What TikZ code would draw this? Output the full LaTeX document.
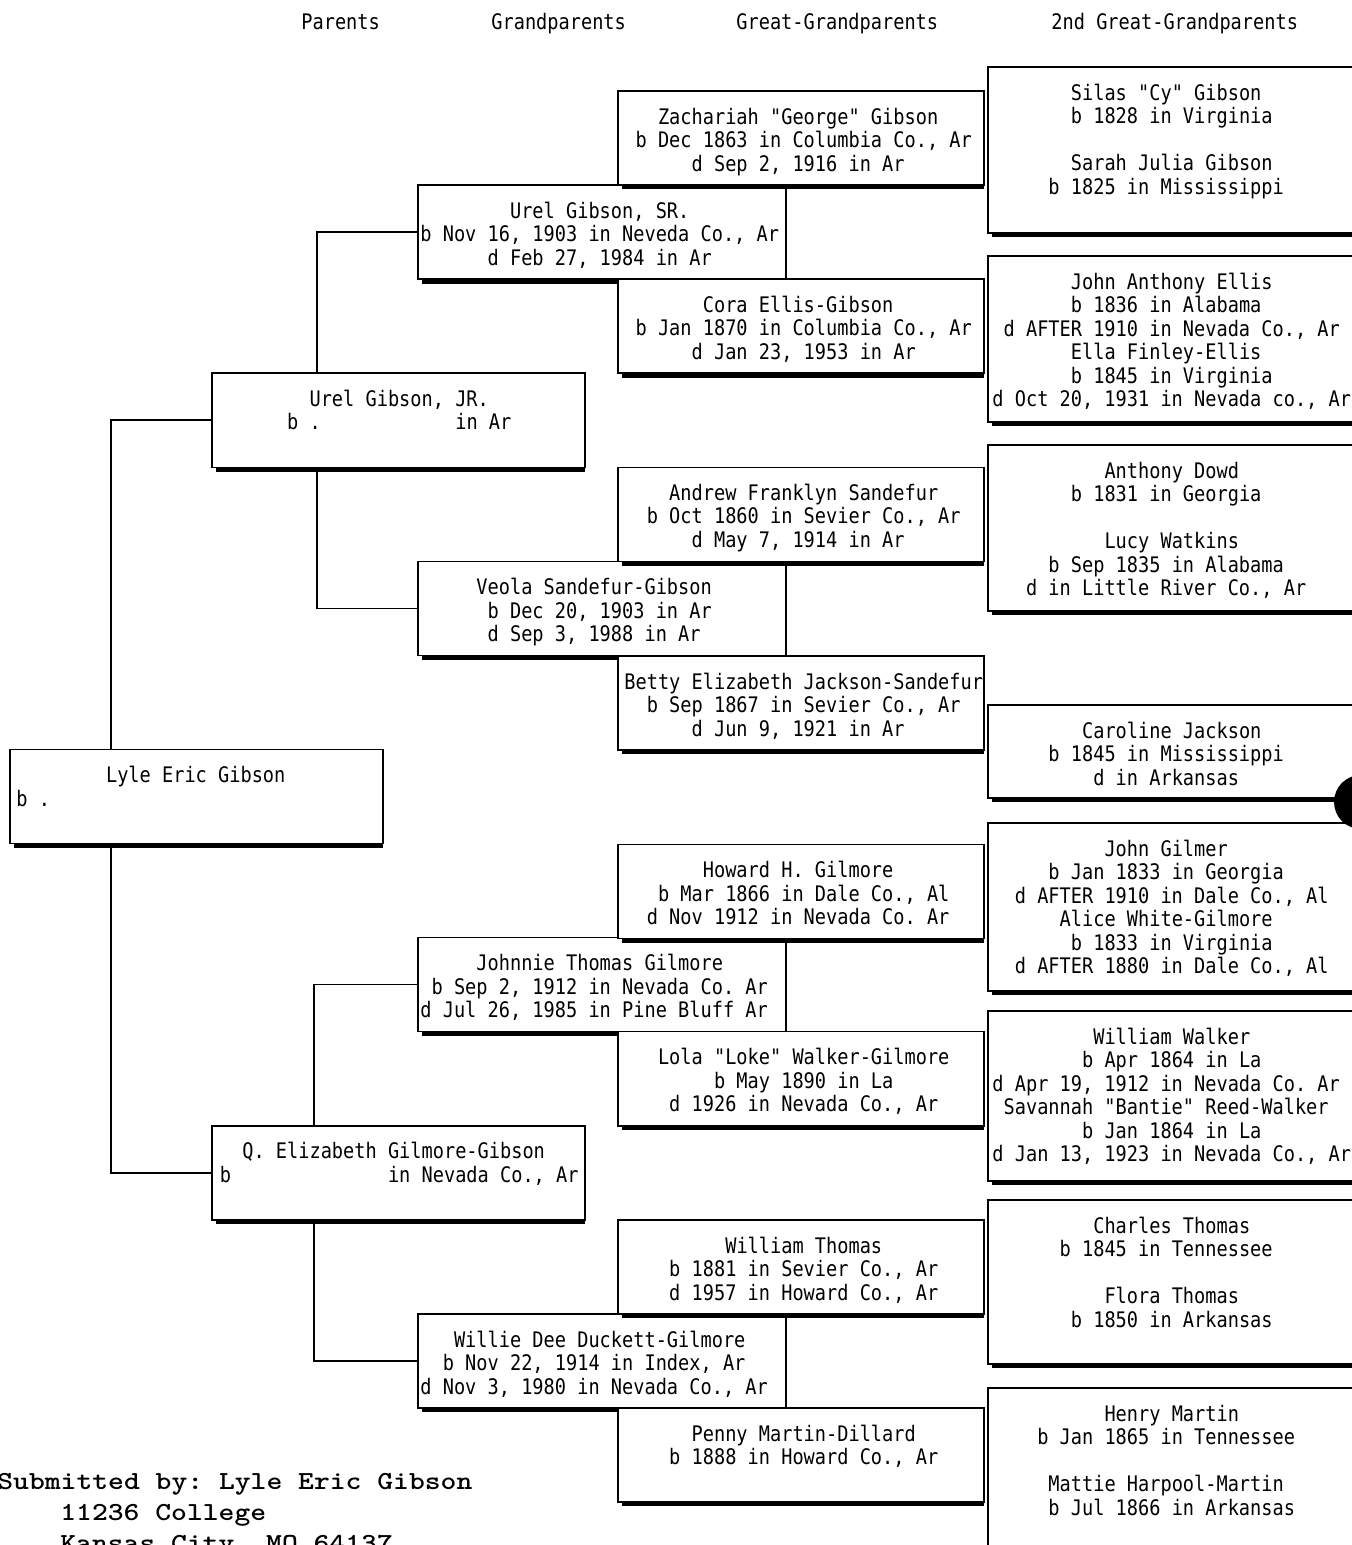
\documentclass[tikz,border=0pt]{standalone}
\usepackage{fontspec}
\setmonofont{DejaVu Sans Mono}[FakeStretch=0.87]
\newfontfamily\footfont{lmmonolt10-bold.otf}[FakeStretch=1.16]
\usetikzlibrary{calc}

\newlength\cw
\newlength\gtmp
\newsavebox\glbox
% one printed line, centred on a 32-column character grid (dot-matrix style)
\newcommand\gl[2][32]{%
  \settowidth{\cw}{0}%
  \sbox\glbox{#2}%
  \setlength\gtmp{\wd\glbox}%
  \pgfmathtruncatemacro\padn{floor((#1*\cw-\gtmp)/(2*\cw)+0.01)}%
  \hbox to #1\cw{\vrule height 8.5pt depth 3pt width 0pt\hskip\padn\cw\usebox\glbox\hss}}

\tikzset{
  pbox/.style={draw, fill=white, line width=0.75pt, inner sep=0pt, outer sep=0pt, rectangle},
  shadowline/.style={line width=2pt},
  conn/.style={line width=0.75pt},
  ptxt/.style={anchor=north west, inner sep=0pt,
    font=\ttfamily\fontsize{10.7pt}{11.75pt}\selectfont\frenchspacing},
  hdr/.style={anchor=base west, inner sep=0pt,
    font=\ttfamily\fontsize{10.7pt}{11.75pt}\selectfont\frenchspacing},
  foot/.style={anchor=base west, inner sep=0pt,
    font=\footfont\fontsize{13pt}{15pt}\selectfont\frenchspacing},
}

% name, left, top, width, height, text offset, lines
\newcommand\person[7]{%
  \node[pbox, minimum width=#4*0.5pt, minimum height=#5*0.5pt] (#1) at (#2+#4/2, #3+#5/2) {};
  \draw[shadowline] ([xshift=2pt, yshift=-1.2pt]#1.south west) -- ([yshift=-1.2pt]#1.south east);
  \node[ptxt] (#1-t) at (#2+#6, #3+15.8) {\vtop{#7}};
}

\begin{document}
\begin{tikzpicture}[x=0.5pt, y=-0.5pt]
\useasboundingbox (0,0) rectangle (1352,1545);
\clip (0,0) rectangle (1352,1545);
\fill[white] (0,0) rectangle (1352,1545);

% column headings
\node[hdr] (h1) at (301,29.8) {Parents};
\node[hdr] (h2) at (491,29.8) {Grandparents};
\node[hdr] (h3) at (736,29.8) {Great-Grandparents};
\node[hdr] (h4) at (1051,29.8) {2nd Great-Grandparents};

% grandparents
\person{urelsr}{418}{185.07}{368}{94.07}{2}{\gl{Urel Gibson, SR.}\gl{b Nov 16, 1903 in Neveda Co., Ar}\gl{d Feb 27, 1984 in Ar}}
\person{veola}{418}{561.35}{368}{94.07}{2}{\gl{Veola Sandefur-Gibson}\gl{b Dec 20, 1903 in Ar}\gl{d Sep 3, 1988 in Ar}}
\person{johnnie}{418}{937.63}{368}{94.07}{2}{\gl{Johnnie Thomas Gilmore}\gl{b Sep 2, 1912 in Nevada Co. Ar}\gl{d Jul 26, 1985 in Pine Bluff Ar}}
\person{willie}{418}{1313.91}{368}{94.07}{2}{\gl{Willie Dee Duckett-Gilmore}\gl{b Nov 22, 1914 in Index, Ar}\gl{d Nov 3, 1980 in Nevada Co., Ar}}

% great-grandparents
\person{zach}{618}{91}{366}{94.07}{6}{\gl{Zachariah "George" Gibson}\gl{b Dec 1863 in Columbia Co., Ar}\gl{d Sep 2, 1916 in Ar}}
\person{cora}{618}{279.14}{366}{94.07}{6}{\gl{Cora Ellis-Gibson}\gl{b Jan 1870 in Columbia Co., Ar}\gl{d Jan 23, 1953 in Ar}}
\person{andrew}{618}{467.28}{366}{94.07}{6}{\gl{Andrew Franklyn Sandefur}\gl{b Oct 1860 in Sevier Co., Ar}\gl{d May 7, 1914 in Ar}}
\person{betty}{618}{656}{366}{94.07}{6}{\gl{Betty Elizabeth Jackson-Sandefur}\gl{b Sep 1867 in Sevier Co., Ar}\gl{d Jun 9, 1921 in Ar}}
\person{howard}{618}{844.5}{366}{94.07}{6}{\gl{Howard H. Gilmore}\gl{b Mar 1866 in Dale Co., Al}\gl{d Nov 1912 in Nevada Co. Ar}}
\person{lola}{618}{1031.7}{366}{94.07}{6}{\gl{Lola "Loke" Walker-Gilmore}\gl{b May 1890 in La}\gl{d 1926 in Nevada Co., Ar}}
\person{wthomas}{618}{1219.84}{366}{94.07}{6}{\gl{William Thomas}\gl{b 1881 in Sevier Co., Ar}\gl{d 1957 in Howard Co., Ar}}
\person{penny}{618}{1407.98}{366}{94.07}{6}{\gl{Penny Martin-Dillard}\gl{b 1888 in Howard Co., Ar}}

% parents and subject
\person{urelj}{212}{373.21}{373}{94.07}{7.5}{\gl{Urel Gibson, JR.}\gl{b .\hspace{12\cw}in Ar}}
\person{q}{212}{1125.77}{373}{94.07}{7.5}{\gl{Q. Elizabeth Gilmore-Gibson}\gl{b\hspace{14\cw}in Nevada Co., Ar}}
\person{lyle}{10}{749.49}{373}{94.07}{6}{\gl{Lyle Eric Gibson}\gl{b .\hspace{29\cw}}}

% 2nd great-grandparents
\person{silas}{988}{67}{420}{166}{4}{\gl{Silas "Cy" Gibson}\gl{b 1828 in Virginia}\gl{}\gl{Sarah Julia Gibson}\gl{b 1825 in Mississippi}}
\person{ellis}{988}{256}{420}{166}{4}{\gl{John Anthony Ellis}\gl{b 1836 in Alabama}\gl{d AFTER 1910 in Nevada Co., Ar}\gl{Ella Finley-Ellis}\gl{b 1845 in Virginia}\gl{d Oct 20, 1931 in Nevada co., Ar}}
\person{dowd}{988}{445}{420}{166}{4}{\gl{Anthony Dowd}\gl{b 1831 in Georgia}\gl{}\gl{Lucy Watkins}\gl{b Sep 1835 in Alabama}\gl{d in Little River Co., Ar}}
\person{caroline}{988}{705}{420}{93}{4}{\gl{Caroline Jackson}\gl{b 1845 in Mississippi}\gl{d in Arkansas}}
\person{gilmer}{988}{823}{420}{168}{4}{\gl{John Gilmer}\gl{b Jan 1833 in Georgia}\gl{d AFTER 1910 in Dale Co., Al}\gl{Alice White-Gilmore}\gl{b 1833 in Virginia}\gl{d AFTER 1880 in Dale Co., Al}}
\person{walker}{988}{1011}{420}{170}{4}{\gl{William Walker}\gl{b Apr 1864 in La}\gl{d Apr 19, 1912 in Nevada Co. Ar}\gl{Savannah "Bantie" Reed-Walker}\gl{b Jan 1864 in La}\gl{d Jan 13, 1923 in Nevada Co., Ar}}
\person{charles}{988}{1200}{420}{164}{4}{\gl{Charles Thomas}\gl{b 1845 in Tennessee}\gl{}\gl{Flora Thomas}\gl{b 1850 in Arkansas}}
\person{henry}{988}{1388}{420}{166}{4}{\gl{Henry Martin}\gl{b Jan 1865 in Tennessee}\gl{}\gl{Mattie Harpool-Martin}\gl{b Jul 1866 in Arkansas}}

% connectors
\coordinate (ca) at (111,0);
\coordinate (cb) at (317,0);
\coordinate (cc) at (314,0);
\draw[conn] (ca |- lyle.north) |- (urelj.west);
\draw[conn] (ca |- lyle.south) |- (q.west);
\draw[conn] (cb |- urelj.north) |- (urelsr.west);
\draw[conn] (cb |- urelj.south) |- (veola.west);
\draw[conn] (cc |- q.north) |- (johnnie.west);
\draw[conn] (cc |- q.south) |- (willie.west);

% punch hole at the right edge
\fill[black] (1361,802) circle[radius=13.5pt];

% footer
\node[foot] (f1) at (-3,1489) {Submitted by: Lyle Eric Gibson};
\node[foot] (f2) at (60,1520) {11236 College};
\node[foot] (f3) at (60,1551) {Kansas City, MO 64137};
\end{tikzpicture}
\end{document}
